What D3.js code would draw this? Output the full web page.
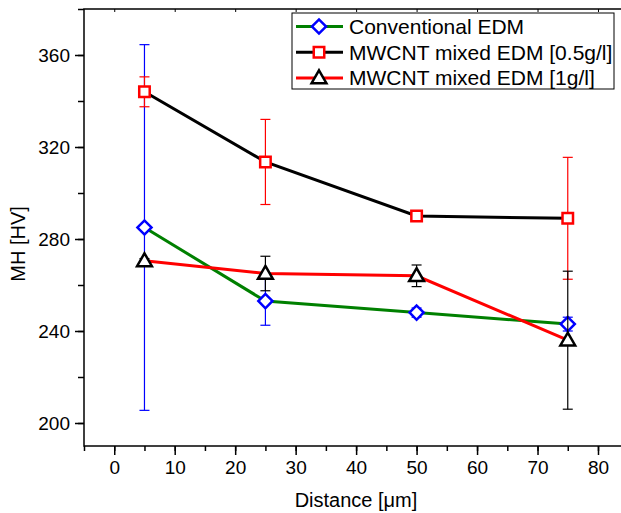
<!DOCTYPE html>
<head>
  <meta charset="utf-8">
  <title>MH vs distance</title>
  <script src="https://d3js.org/d3.v7.min.js"></script>
  <style>
    body { margin:0; background:#fff; }
    svg { font-family: "Liberation Sans", Arial, sans-serif; }
  </style>
</head>

<body>
  <svg width="621" height="513"></svg>
  <script>
    var distance = [5, 25, 50, 75];

    var conventional = [285, 253, 248, 243];
    var conventionalErr = [79.5, 10.5, 2, 3];

    var mixed05 = [344, 313.5, 290, 289];
    var mixed05Err = [6.5, 18.5, 1, 26.5];

    var mixed1 = [270.5, 265, 264, 236];
    var mixed1Err = [1, 7.5, 4.7, 30];

    var xTicks = [0, 10, 20, 30, 40, 50, 60, 70, 80];
    var yTicks = [200, 240, 280, 320, 360];

    var series = [
      { name: 'Conventional EDM', values: conventional, err: conventionalErr,
        line: '#008000', marker: '#0000ff', bar: '#0000ff', shape: 'diamond' },
      { name: 'MWCNT mixed EDM [0.5g/l]', values: mixed05, err: mixed05Err,
        line: '#000000', marker: '#ff0000', bar: '#ff0000', shape: 'square' },
      { name: 'MWCNT mixed EDM [1g/l]', values: mixed1, err: mixed1Err,
        line: '#ff0000', marker: '#000000', bar: '#000000', shape: 'triangle' }
    ];

    var svg = d3.select('svg');
    var plotLeft = 84, plotTop = 9, plotBottom = 446;
    var fontFam = '"Liberation Sans", Arial, sans-serif';

    var x = d3.scaleLinear().domain([-5, 90]).range([plotLeft, plotLeft + 95 * 6.047]);
    var y = d3.scaleLinear().domain([190, 380]).range([plotBottom, plotTop]);

    // frame
    svg.append('rect')
      .attr('x', plotLeft).attr('y', plotTop)
      .attr('width', x(90) - plotLeft).attr('height', plotBottom - plotTop)
      .attr('fill', 'none').attr('stroke', '#000').attr('stroke-width', 1.5);

    // x axis
    var xAxis = svg.append('g').attr('transform', 'translate(0,' + plotBottom + ')');
    xAxis.call(d3.axisBottom(x).tickValues(d3.range(-5, 91, 5)).tickSize(5).tickFormat(''));
    xAxis.append('g').call(d3.axisBottom(x).tickValues(xTicks).tickSize(9).tickPadding(6));
    xAxis.selectAll('.domain').remove();
    xAxis.selectAll('line').attr('stroke-width', 1.5);
    xAxis.selectAll('text').attr('font-size', 19).attr('fill', '#000').attr('font-family', fontFam);

    // top mirror ticks
    var topAxis = svg.append('g').attr('transform', 'translate(0,' + plotTop + ')');
    topAxis.call(d3.axisBottom(x).tickValues(xTicks).tickSize(3).tickFormat(''));
    topAxis.selectAll('.domain').remove();

    // y axis
    var yAxis = svg.append('g').attr('transform', 'translate(' + plotLeft + ',0)');
    yAxis.call(d3.axisLeft(y).tickValues(d3.range(200, 381, 20)).tickSize(6).tickFormat(''));
    yAxis.append('g').call(d3.axisLeft(y).tickValues(yTicks).tickSize(9).tickPadding(5));
    yAxis.selectAll('.domain').remove();
    yAxis.selectAll('line').attr('stroke-width', 1.5);
    yAxis.selectAll('text').attr('font-size', 19).attr('fill', '#000').attr('font-family', fontFam);

    // axis titles
    svg.append('text')
      .attr('x', 356).attr('y', 507)
      .attr('text-anchor', 'middle').attr('font-size', 20)
      .text('Distance [\u03bcm]');
    svg.append('text')
      .attr('transform', 'translate(25,244) rotate(-90)')
      .attr('text-anchor', 'middle').attr('font-size', 20)
      .text('MH [HV]');

    var symbolFor = {
      diamond: d3.symbol().type(d3.symbolSquare).size(100),
      square: d3.symbol().type(d3.symbolSquare).size(110),
      triangle: d3.symbol().type(d3.symbolTriangle).size(95)
    };

    function drawMarker(g, s, cx, cy) {
      var p = g.append('path')
        .attr('d', symbolFor[s.shape]())
        .attr('fill', '#fff')
        .attr('stroke', s.marker)
        .attr('stroke-width', 2.5);
      var t = 'translate(' + cx + ',' + cy + ')';
      if (s.shape === 'diamond') t += ' rotate(45)';
      if (s.shape === 'triangle') t += ' translate(0,1)';
      p.attr('transform', t);
    }

    var line = d3.line()
      .x(function (d, i) { return x(distance[i]); })
      .y(function (d) { return y(d); });

    series.forEach(function (s) {
      var g = svg.append('g');
      g.append('path')
        .attr('d', line(s.values))
        .attr('fill', 'none')
        .attr('stroke', s.line)
        .attr('stroke-width', 3);

      s.values.forEach(function (v, i) {
        var cx = x(distance[i]);
        var y1 = y(v + s.err[i]), y2 = y(v - s.err[i]);
        g.append('line').attr('x1', cx).attr('x2', cx).attr('y1', y1).attr('y2', y2)
          .attr('stroke', s.bar).attr('stroke-width', 1.2);
        [y1, y2].forEach(function (yy) {
          g.append('line').attr('x1', cx - 5).attr('x2', cx + 5).attr('y1', yy).attr('y2', yy)
            .attr('stroke', s.bar).attr('stroke-width', 1.2);
        });
      });

      s.values.forEach(function (v, i) {
        drawMarker(g, s, x(distance[i]), y(v));
      });
    });

    // legend
    var legend = svg.append('g');
    legend.append('rect')
      .attr('x', 292).attr('y', 13).attr('width', 322).attr('height', 76)
      .attr('fill', '#fff').attr('stroke', '#000').attr('stroke-width', 1);

    series.forEach(function (s, i) {
      var cy = 26.5 + i * 25.7;
      legend.append('line')
        .attr('x1', 296).attr('x2', 343).attr('y1', cy).attr('y2', cy)
        .attr('stroke', s.line).attr('stroke-width', 3);
      drawMarker(legend, s, 319, cy);
      legend.append('text')
        .attr('x', 349).attr('y', cy + 7.5)
        .attr('font-size', 21)
        .text(s.name);
    });
  </script>
</body>
